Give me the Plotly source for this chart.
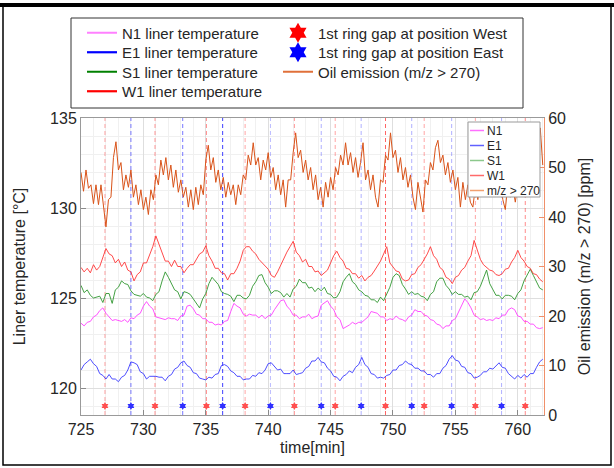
import numpy as np
import plotly.graph_objects as go

# ---------------- data ----------------
OIL_T0, OIL_DT = 725.0, 0.2      # oil emission sampling (min)
TEMP_T0, TEMP_DT = 725.0, 0.25   # liner temperature sampling (min)

oil_ppm = [
    49.0, 45.2, 49.5, 45.8, 46.5,  42.7, 46.5, 42.5, 46.5, 42.0,
    38.0, 43.5, 44.0, 52.0, 55.2,  49.5, 51.0, 45.5, 48.5, 46.0,
    49.5, 44.0, 46.5, 42.5, 45.5,  41.5, 44.0, 40.5, 45.5, 43.5,
    48.5, 46.5, 51.5, 48.5, 52.0,  47.5, 50.5, 46.0, 49.5, 45.0,
    47.5, 44.0, 46.0, 42.0, 45.5,  41.5, 46.0, 42.5, 46.5, 44.5,
    51.5, 54.5, 49.5, 52.0, 47.0,  49.5, 45.5, 48.0, 44.0, 47.0,
    44.5, 46.5, 42.5, 46.5, 44.5,  48.5, 47.5, 52.5, 50.5, 55.0,
    50.5, 52.0, 47.5, 51.5, 49.5,  53.0, 48.0, 50.0, 45.5, 48.5,
    44.5, 47.5, 42.0, 47.5, 47.5,  53.0, 57.0, 52.0, 53.5, 49.0,
    51.5, 47.5, 50.0, 45.5, 48.5,  43.5, 46.0, 42.0, 47.0, 44.0,
    48.0, 45.5, 50.0, 48.5, 52.5,  50.5, 55.0, 50.5, 53.0, 49.0,
    52.0, 48.0, 51.0, 55.0, 47.5,  49.5, 45.5, 48.5, 44.0, 42.0,
    47.5, 47.0, 52.5, 51.5, 57.0,  52.0, 53.5, 49.0, 52.0, 47.5,
    50.0, 46.0, 48.5, 44.0, 41.5,  47.0, 43.5, 41.0, 47.5, 46.5,
    51.0, 49.5, 54.0, 55.5, 51.0,  52.5, 48.5, 51.0, 47.0, 49.5,
    45.5, 48.0, 42.0, 47.0, 43.5,  46.5, 43.0, 42.0, 46.0, 43.5,
    47.5, 45.5, 49.0, 46.5, 49.5,  46.0, 48.5, 45.0, 47.5, 43.5,
    41.5, 46.5, 44.0, 46.0, 43.0,  46.5, 44.5, 48.0, 45.5, 49.0,
    46.5, 50.5, 48.5, 53.5, 58.0,  50.5,
]

w1_temp = [
    126.7, 126.45, 126.65, 126.4, 126.85, 126.55, 126.75, 127.25,
    127.75, 127.45, 127.35, 126.95, 127.15, 126.75, 127.0, 126.55,
    126.45, 125.95, 126.3, 126.45, 126.95, 126.95, 127.35, 127.85,
    128.45, 127.95, 127.55, 127.05, 127.05, 126.75, 127.1, 126.75,
    126.75, 126.4, 126.65, 126.85, 126.85, 127.15, 127.45, 127.55,
    127.9, 127.35, 127.05, 126.65, 126.65, 126.4, 126.35, 126.0,
    126.35, 126.35, 126.65, 127.05, 127.65, 127.85, 127.85, 127.6,
    127.45, 127.15, 126.95, 126.75, 126.6, 126.25, 126.15, 126.45,
    126.85, 127.15, 127.55, 127.85, 128.15, 127.55, 127.35, 127.0,
    127.15, 126.75, 126.75, 126.45, 126.5, 126.25, 126.4, 126.55,
    126.95, 127.35, 127.6, 127.25, 127.05, 126.65, 126.6, 126.35,
    126.35, 126.1, 126.25, 125.95, 126.15, 126.25, 126.5, 126.75,
    127.05, 127.45, 127.85, 126.95, 126.75, 126.5, 126.45, 126.05,
    125.95, 126.0, 126.3, 126.35, 126.7, 126.85, 127.15, 127.45,
    127.85, 127.35, 127.15, 126.7, 126.55, 126.15, 126.05, 125.8,
    126.15, 126.25, 126.55, 126.7, 127.05, 127.35, 128.2, 127.65,
    127.15, 126.85, 126.7, 126.55, 126.5, 126.3, 126.25, 126.35,
    126.6, 126.65, 127.0, 127.25, 127.65, 127.25, 127.05, 126.75,
    126.65, 126.35, 126.3, 126.05, 125.9,
]

s1_temp = [
    125.7, 125.3, 125.45, 125.15, 125.0, 125.05, 125.1, 124.75,
    125.25, 125.25, 124.7, 125.45, 125.6, 125.95, 125.8, 125.75,
    125.4, 125.2, 125.15, 125.1, 125.25, 125.05, 125.0, 124.85,
    125.2, 125.35, 125.95, 126.45, 126.15, 125.8, 125.45, 125.35,
    124.95, 125.35, 125.3, 125.2, 124.95, 124.7, 124.45, 124.95,
    125.25, 125.8, 126.15, 125.95, 125.75, 125.35, 125.25, 125.2,
    125.1, 124.8, 125.15, 125.15, 125.0, 124.95, 125.15, 125.65,
    125.9, 126.25, 126.3, 125.85, 125.6, 125.25, 125.4, 125.4,
    125.3, 125.05, 125.25, 125.05, 125.5, 125.65, 126.05, 125.85,
    125.85, 125.55, 125.6, 125.35, 125.55, 125.4, 125.6, 125.25,
    125.2, 125.0, 125.05, 125.35, 125.9, 126.15, 126.35, 125.9,
    125.75, 125.45, 125.35, 125.15, 125.1, 124.9, 124.9, 124.75,
    125.05, 124.85, 125.25, 125.6, 126.15, 126.35, 126.25, 125.75,
    125.5, 125.2, 125.35, 125.2, 125.25, 125.1, 125.05, 124.85,
    125.2, 125.35, 125.9, 126.1, 126.1, 125.7, 125.5, 125.2,
    125.35, 125.2, 125.2, 125.05, 125.1, 124.9, 125.3, 125.35,
    125.65, 126.15, 126.55, 125.8, 125.5, 125.15, 125.15, 124.95,
    125.15, 125.15, 125.1, 124.9, 125.25, 125.45, 125.95, 126.25,
    126.6, 126.25, 125.85, 125.55, 125.45,
]

n1_temp = [
    123.6, 123.45, 123.65, 123.7, 123.95, 124.05, 124.3, 124.45,
    124.15, 123.95, 123.75, 123.8, 123.75, 123.7, 123.8, 123.65,
    123.9, 123.85, 124.05, 124.15, 124.55, 124.8, 124.55, 124.4,
    123.95, 123.9, 123.85, 123.8, 123.9, 123.85, 123.85, 123.75,
    124.0, 124.05, 124.55, 124.6, 124.4, 124.1, 124.05, 123.85,
    123.85, 123.65, 123.65, 123.5, 123.55, 123.5, 123.7, 123.75,
    124.25, 124.7, 124.55, 124.45, 124.1, 124.0, 124.1, 124.05,
    124.05, 123.9, 124.05, 123.85, 124.0, 124.05, 124.35, 124.6,
    124.85, 124.9, 124.55, 124.35, 124.05, 124.05, 123.85, 123.95,
    123.95, 124.1, 123.85, 123.95, 124.0, 124.6, 124.75, 124.85,
    124.55, 124.35, 123.95, 123.8, 123.3, 123.4, 123.5, 123.65,
    123.55, 123.65, 123.65, 123.8, 123.95, 124.25, 124.2, 124.15,
    123.95, 123.95, 123.75, 123.85, 123.8, 124.0, 123.85, 123.8,
    123.7, 123.95, 124.05, 124.35, 124.25, 124.25, 124.05, 124.0,
    123.8, 123.75, 123.55, 123.5, 123.3, 123.45, 123.45, 123.75,
    123.85, 124.25, 124.6, 124.95, 124.75, 124.45, 124.05, 123.95,
    123.8, 123.85, 123.75, 123.8, 123.75, 123.9, 123.85, 124.05,
    124.05, 124.35, 124.45, 124.35, 124.0, 123.95, 123.7, 123.7,
    123.55, 123.55, 123.35, 123.3, 123.35,
]

e1_temp = [
    121.0, 121.3, 121.45, 121.6, 121.35, 121.2, 120.8, 120.7,
    120.5, 120.75, 120.5, 120.5, 120.35, 120.6, 120.7, 121.0,
    121.45, 121.4, 121.3, 120.9, 120.8, 120.5, 120.65, 120.65,
    120.65, 120.6, 120.6, 120.4, 120.65, 120.75, 121.05, 121.15,
    121.4, 121.5, 121.25, 121.15, 120.85, 120.8, 120.55, 120.5,
    120.45, 120.6, 120.55, 120.75, 120.8, 121.25, 121.3, 121.2,
    120.95, 120.85, 120.65, 120.65, 120.45, 120.5, 120.5, 120.7,
    120.65, 120.85, 120.8, 121.0, 121.35, 121.4, 121.2, 121.0,
    121.05, 120.8, 120.8, 120.8, 121.0, 120.75, 120.8, 120.85,
    121.1, 121.2, 121.5, 121.5, 121.7, 121.45, 121.4, 121.1,
    120.95, 120.65, 120.6, 120.4, 120.65, 120.75, 120.95, 120.85,
    121.15, 121.3, 121.7, 121.3, 121.15, 120.8, 120.75, 120.55,
    120.6, 120.55, 120.7, 120.75, 121.0, 121.0, 121.25, 121.3,
    121.5, 121.35, 121.3, 121.1, 121.1, 120.95, 120.95, 120.75,
    120.75, 120.6, 120.8, 120.8, 121.1, 121.25, 121.6, 121.8,
    121.55, 121.5, 121.2, 121.15, 120.85, 120.8, 120.55, 120.6,
    120.7, 120.9, 120.9, 121.1, 121.05, 121.25, 121.4, 121.15,
    121.1, 120.8, 120.65, 120.5, 120.7, 120.55, 120.75, 120.6,
    120.8, 120.8, 121.15, 121.45, 121.6,
]

west_gap_times = [726.92, 730.93, 735.05, 738.15, 742.1, 745.37, 749.4, 752.5, 756.6, 760.6]
east_gap_times = [729.0, 733.15, 736.35, 740.18, 744.25, 747.45, 751.5, 754.7, 758.7]
GAP_MARKER_LEVEL = 119.0  # degC, row of ring-gap markers

temp_names = ["N1 liner temperature", "E1 liner temperature",
              "S1 liner temperature", "W1 liner temperature"]
short_names = ["N1", "E1", "S1", "W1", "m/z > 270"]
west_name = "1st ring gap at position West"
east_name = "1st ring gap at position East"
oil_name = "Oil emission (m/z > 270)"

# ---------------- styles ----------------
T_RANGE = [118.5, 135]
P_RANGE = [0, 60]
X_RANGE = [725, 762.1]
west_alpha = [0.35, 0.4, 0.45, 0.35, 0.4, 0.35, 0.6, 0.35, 0.35, 0.45]
east_alpha = [0.6, 0.6, 0.85, 0.3, 0.35, 0.35, 0.35, 0.35, 0.35]
line_cols = ["#ff40ff", "#3a3aff", "#2f962f", "#ff3535"]
leg_cols = ["#ff80ff", "#0000ff", "#008000", "#ff0000"]
inner_cols = ["#ff70ff", "#6060ff", "#8cc88c", "#ff6a6a", "#f0a070"]
OIL_COL = "#d95319"
FONT = "Liberation Sans, Arial, sans-serif"

temp_series = [n1_temp, e1_temp, s1_temp, w1_temp]
temp_t = TEMP_T0 + TEMP_DT * np.arange(len(w1_temp))
oil_t = OIL_T0 + OIL_DT * np.arange(len(oil_ppm))

# ---------------- layout helpers ----------------
L, R, T, B = 81, 70, 118, 53
W, H = 614, 468
PW, PH = W - L - R, H - T - B


def px(x):
    return (x - L) / PW


def py(y):
    return (H - B - y) / PH


fig = go.Figure()

# ring-gap dashed lines
for t, a in zip(west_gap_times, west_alpha):
    fig.add_trace(go.Scatter(x=[t, t], y=T_RANGE, mode="lines", showlegend=False, hoverinfo="skip",
                             opacity=a, line=dict(color="#ff0000", width=1, dash="4px,3px")))
for t, a in zip(east_gap_times, east_alpha):
    fig.add_trace(go.Scatter(x=[t, t], y=T_RANGE, mode="lines", showlegend=False, hoverinfo="skip",
                             opacity=a, line=dict(color="#2020ff", width=1, dash="4px,3px")))

# temperatures
for vals, col in zip(temp_series, line_cols):
    fig.add_trace(go.Scatter(x=temp_t, y=vals, mode="lines", showlegend=False,
                             line=dict(color=col, width=0.9)))

# ring-gap markers
fig.add_trace(go.Scatter(x=west_gap_times, y=[GAP_MARKER_LEVEL] * len(west_gap_times), mode="markers",
                         showlegend=False, marker=dict(symbol="hexagram", size=6, color="#ff5050")))
fig.add_trace(go.Scatter(x=east_gap_times, y=[GAP_MARKER_LEVEL] * len(east_gap_times), mode="markers",
                         showlegend=False, marker=dict(symbol="hexagram", size=6, color="#3030ff")))

# oil emission on right axis
fig.add_trace(go.Scatter(x=oil_t, y=oil_ppm, mode="lines", yaxis="y2", showlegend=False,
                         line=dict(color=OIL_COL, width=1.0)))

# outer legend: one Plotly legend per entry, laid out in two columns
legend_layout = {}
col1_x, col2_x = 82, 278
row_y = [33, 52.5, 72, 91.5]
entries = []
for i, (name, col) in enumerate(zip(temp_names, leg_cols)):
    entries.append((name, dict(mode="lines", line=dict(color=col, width=2.2)), col1_x, row_y[i]))
entries.append((west_name, dict(mode="markers", marker=dict(symbol="hexagram", size=15, color="#ff0000")),
                col2_x, row_y[0]))
entries.append((east_name, dict(mode="markers", marker=dict(symbol="hexagram", size=15, color="#0000ff")),
                col2_x, row_y[1]))
entries.append((oil_name, dict(mode="lines", line=dict(color="#e0703a", width=2.2)), col2_x, row_y[2]))

for k, (name, style, lx, ly) in enumerate(entries):
    key = "legend" if k == 0 else f"legend{k + 1}"
    fig.add_trace(go.Scatter(x=[None], y=[None], name=name, legend=key, showlegend=True, **style))
    legend_layout[key] = dict(x=px(lx), y=py(ly), xanchor="left", yanchor="middle",
                              bgcolor="rgba(0,0,0,0)", font=dict(size=15, color="#262626"),
                              itemwidth=30)

shapes = [
    # outer frame
    dict(type="rect", xref="paper", yref="paper", x0=px(3), x1=px(611), y0=py(465), y1=py(5),
         line=dict(color="black", width=1.5)),
    dict(type="line", xref="paper", yref="paper", x0=px(0), x1=px(614), y0=py(5), y1=py(5),
         line=dict(color="black", width=4)),
    # outer legend box
    dict(type="rect", xref="paper", yref="paper", x0=px(71), x1=px(523), y0=py(108), y1=py(18),
         line=dict(color="#333333", width=1)),
    # inner legend box
    dict(type="rect", xref="paper", yref="paper", x0=px(468), x1=px(540), y0=py(197), y1=py(122),
         line=dict(color="#9a9a9a", width=1), fillcolor="white", layer="above"),
]
annotations = []
row0, dy = 130.5, 15.0
for i, (nm, col) in enumerate(zip(short_names, inner_cols)):
    yy = row0 + i * dy
    shapes.append(dict(type="line", xref="paper", yref="paper", x0=px(470), x1=px(484),
                       y0=py(yy), y1=py(yy), line=dict(color=col, width=1.5), layer="above"))
    annotations.append(dict(xref="paper", yref="paper", x=px(485), y=py(yy), text=nm, showarrow=False,
                            xanchor="left", yanchor="middle", font=dict(size=12, color="#262626")))

axis_common = dict(ticks="inside", ticklen=5, zeroline=False, showline=True)

fig.update_layout(
    width=W, height=H,
    margin=dict(l=L, r=R, t=T, b=B),
    paper_bgcolor="white", plot_bgcolor="white",
    font=dict(family=FONT, size=16, color="#262626"),
    xaxis=dict(range=X_RANGE, tickvals=list(range(725, 761, 5)), tickcolor="#8a8a8a",
               linecolor="#9a9a9a", mirror=True, showgrid=True, gridcolor="#dedede", gridwidth=1,
               minor=dict(dtick=1, tick0=725, showgrid=True, gridcolor="#f0f0f0"),
               title=dict(text="time[min]", font=dict(size=16), standoff=4), **axis_common),
    yaxis=dict(range=T_RANGE, tickvals=[120, 125, 130, 135], tickcolor="#8a8a8a",
               linecolor="#9a9a9a", showgrid=True, gridcolor="#dedede",
               minor=dict(dtick=1, tick0=120, showgrid=True, gridcolor="#f0f0f0"),
               title=dict(text="Liner temperature [°C]", font=dict(size=16), standoff=20), **axis_common),
    yaxis2=dict(range=P_RANGE, dtick=10, overlaying="y", side="right", tickcolor="#f0906a",
                linecolor="#f0906a", showgrid=False,
                title=dict(text="Oil emission (m/z > 270) [ppm]", font=dict(size=16), standoff=13),
                **axis_common),
    shapes=shapes,
    annotations=annotations,
    **legend_layout,
)

fig.write_html("out.html")
